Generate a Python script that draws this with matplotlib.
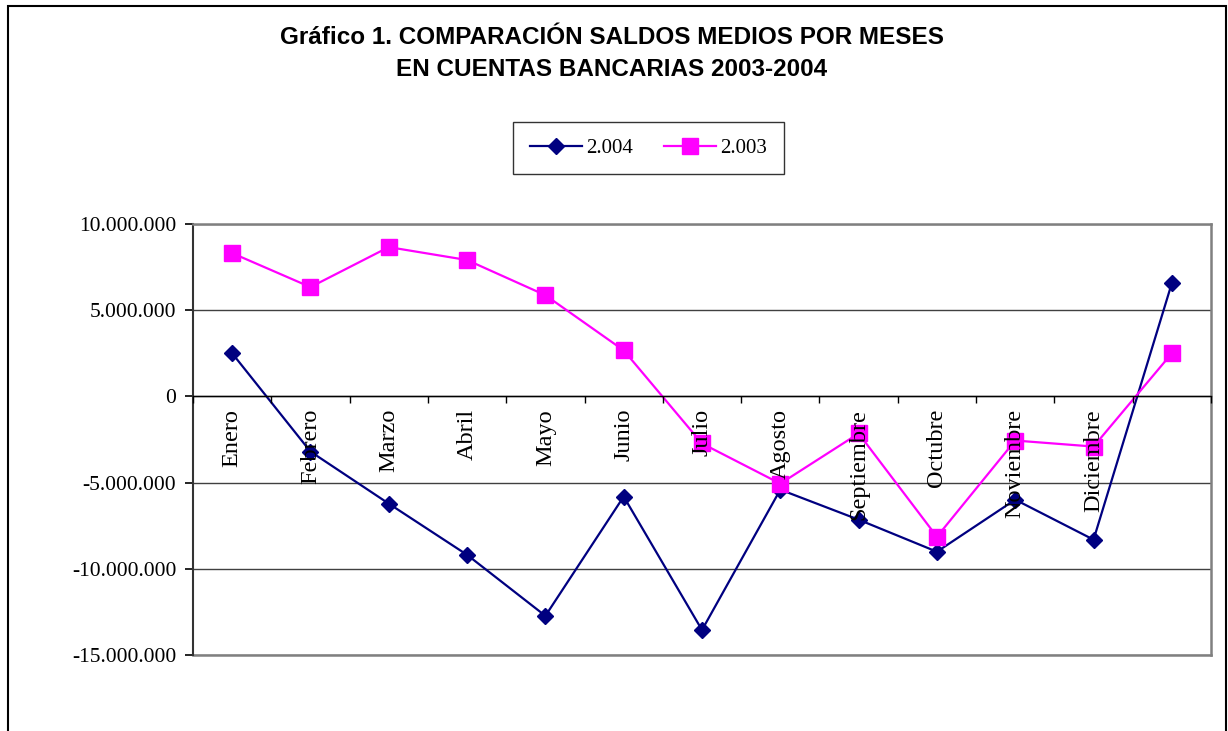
import matplotlib
matplotlib.use("Agg")
import matplotlib.pyplot as plt
from matplotlib.patches import Rectangle
from matplotlib.ticker import FuncFormatter, FixedLocator

categories = ["Enero", "Febrero", "Marzo", "Abril", "Mayo", "Junio", "Julio",
              "Agosto", "Septiembre", "Octubre", "Noviembre", "Diciembre", ""]
serie_2004 = [2500000, -3200000, -6220000, -9190000, -12730000, -5810000, -13550000,
              -5410000, -7150000, -9010000, -5990000, -8310000, 6570000]
serie_2003 = [8310000, 6340000, 8660000, 7910000, 5870000, 2670000, -2730000,
              -5060000, -2150000, -8140000, -2560000, -2910000, 2500000]
yticks = [10000000, 5000000, 0, -5000000, -10000000, -15000000]

SERIF = ["Liberation Serif", "DejaVu Serif"]
SANS = ["Liberation Sans", "DejaVu Sans"]

fig = plt.figure(figsize=(12.28, 7.31), dpi=100)
ax = fig.add_axes([193/1228, 1 - 655/731, (1211-193)/1228, (655-224)/731])

x = list(range(len(categories)))
ax.plot(x, serie_2004, color="#000080", lw=1.6, marker="D", markersize=8.5,
        label="2.004", zorder=3)
ax.plot(x, serie_2003, color="#FF00FF", lw=1.6, marker="s", markersize=11,
        label="2.003", zorder=4)

ax.set_xlim(-0.5, len(categories) - 0.5)
ax.set_ylim(-15000000, 10000000)
ax.set_yticks(yticks)
ax.yaxis.set_major_formatter(FuncFormatter(lambda v, p: f"{int(v):,}".replace(",", ".")))
ax.tick_params(axis="y", labelsize=15.5, length=6, width=1.2, direction="out",
               colors="black", pad=6)
for t in ax.get_yticklabels():
    t.set_fontfamily(SERIF)
ax.spines["bottom"].set_visible(False)

ax.spines["left"].set_color("#333333")
ax.spines["left"].set_linewidth(1.5)
for s in ("top", "right"):
    ax.spines[s].set_color("#808080")
    ax.spines[s].set_linewidth(1.8)
ax.axhline(-15000000, color="#808080", lw=1.8, clip_on=False, zorder=2)

ax.grid(axis="y", color="#404040", lw=1.0)
ax.set_axisbelow(True)

# category axis (crossing at zero), drawn above the series
ax2 = ax.twiny()
ax.tick_params(axis="x", which="both", bottom=False, top=False,
               labelbottom=False, labeltop=False)
ax2.set_zorder(ax.get_zorder() + 1)
ax2.patch.set_visible(False)
ax2.set_xlim(ax.get_xlim())
for s in ("top", "left", "right"):
    ax2.spines[s].set_visible(False)
ax2.spines["bottom"].set_position(("data", 0))
ax2.spines["bottom"].set_color("black")
ax2.spines["bottom"].set_linewidth(1.0)
ax2.xaxis.set_ticks_position("bottom")
ax2.xaxis.set_label_position("bottom")
ax2.xaxis.set_major_locator(FixedLocator([i - 0.5 for i in range(len(categories) + 1)]))
ax2.xaxis.set_major_formatter(FuncFormatter(lambda v, p: ""))
ax2.xaxis.set_minor_locator(FixedLocator(x))
ax2.set_xticklabels(categories, minor=True, rotation=90, fontsize=17.5, family=SERIF,
                    va="top")
ax2.tick_params(axis="x", which="major", length=5, width=1.0, direction="out")
ax2.tick_params(axis="x", which="minor", length=0, pad=9)

h, l = ax.get_legend_handles_labels()
leg = ax2.legend(h, l, loc="center", bbox_to_anchor=(648.5/1228, 1 - 148/731),
                 bbox_transform=fig.transFigure, ncol=2, frameon=True, fancybox=False,
                 prop={"family": SERIF, "size": 15}, handlelength=2.5,
                 columnspacing=1.5, borderpad=0.8, handletextpad=0.2)
leg.get_frame().set_edgecolor("black")
leg.get_frame().set_linewidth(1.0)

fig.text(612/1228, 1 - 37/731, "Gráfico 1. COMPARACIÓN SALDOS MEDIOS POR MESES",
         ha="center", va="center", fontsize=17.5, fontweight="bold", family=SANS)
fig.text(612/1228, 1 - 69/731, "EN CUENTAS BANCARIAS 2003-2004",
         ha="center", va="center", fontsize=17.5, fontweight="bold", family=SANS)

fig.patches.append(Rectangle((8/1228, -0.1), (1226-8)/1228, 1.1 - 6/731,
                             transform=fig.transFigure, fill=False,
                             edgecolor="black", lw=1.5))

fig.savefig("out.png", dpi=100)
